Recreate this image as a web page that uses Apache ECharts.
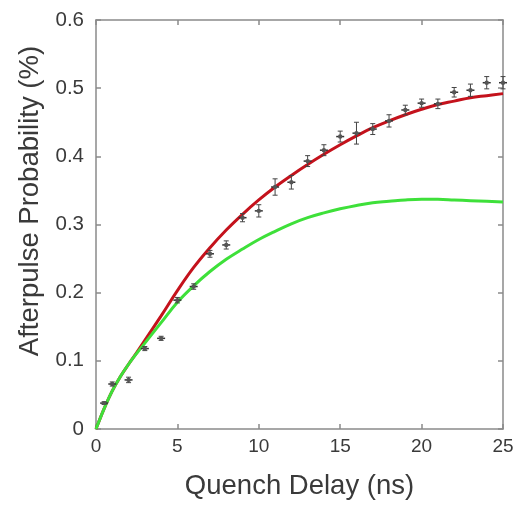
<!DOCTYPE html>
<html>
<head>
<meta charset="utf-8">
<script src="https://cdn.jsdelivr.net/npm/echarts@6/dist/echarts.min.js"></script>
<style>
html,body{margin:0;padding:0;background:#fff;}
#chart{width:518px;height:506px;}
</style>
</head>
<body>
<div id="chart"></div>
<script>
// Measured data points (quench delay in ns, afterpulse probability in %)
var delays = [0.5, 1, 2, 3, 4, 5, 6, 7, 8, 9, 10, 11, 12, 13, 14, 15, 16, 17, 18, 19, 20, 21, 22, 23, 24, 25];
var probs  = [0.038, 0.066, 0.072, 0.118, 0.133, 0.189, 0.209, 0.257, 0.270, 0.310, 0.320, 0.355, 0.362, 0.393, 0.409, 0.429, 0.434, 0.440, 0.452, 0.468, 0.478, 0.477, 0.494, 0.497, 0.508, 0.508];
var errs   = [0.002, 0.003, 0.004, 0.003, 0.003, 0.004, 0.004, 0.005, 0.006, 0.006, 0.009, 0.012, 0.010, 0.008, 0.008, 0.008, 0.016, 0.008, 0.009, 0.007, 0.006, 0.007, 0.007, 0.009, 0.009, 0.009];

// Model curves
var curveT     = [0, 0.5, 1, 1.5, 2, 2.5, 3, 4, 5, 6, 7, 8, 9, 10, 11, 12, 13, 14, 15, 16, 17, 18, 19, 20, 21, 22, 23, 24, 25];
var redCurve   = [0, 0.030, 0.056, 0.077, 0.095, 0.112, 0.130, 0.166, 0.203, 0.237, 0.266, 0.292, 0.315, 0.336, 0.355, 0.372, 0.388, 0.403, 0.417, 0.430, 0.442, 0.452, 0.461, 0.469, 0.476, 0.481, 0.486, 0.489, 0.492];
var greenCurve = [0, 0.030, 0.056, 0.077, 0.095, 0.111, 0.126, 0.156, 0.186, 0.210, 0.231, 0.249, 0.264, 0.278, 0.290, 0.301, 0.310, 0.317, 0.323, 0.328, 0.332, 0.334, 0.336, 0.337, 0.337, 0.336, 0.335, 0.334, 0.333];

// Axis ticks
var xTicks = {min: 0, max: 25, interval: 5};
var yTicks = {min: 0, max: 0.6, interval: 0.1};

var chart = echarts.init(document.getElementById('chart'), null, {renderer: 'canvas'});

function pairs(xs, ys) { return xs.map(function (x, i) { return [x, ys[i]]; }); }

var pointData = delays.map(function (x, i) { return [x, probs[i], errs[i]]; });

var font = '"Liberation Sans", Arial, sans-serif';
var axisColor = '#8a8a8a';
var textColor = '#3a3a3a';

function axisBase(extra) {
  var a = {
    type: 'value',
    axisLine: {show: true, onZero: false, lineStyle: {color: axisColor, width: 1.5}},
    axisTick: {show: true, inside: true, length: 5, lineStyle: {color: axisColor, width: 1.5}},
    splitLine: {show: false}
  };
  for (var k in extra) a[k] = extra[k];
  return a;
}

var option = {
  backgroundColor: '#ffffff',
  animation: false,
  grid: {left: 96, right: 15, top: 20, bottom: 77, containLabel: false},
  xAxis: [
    axisBase({
      position: 'bottom', min: xTicks.min, max: xTicks.max, interval: xTicks.interval,
      name: 'Quench Delay (ns)', nameLocation: 'middle', nameGap: 43,
      nameTextStyle: {fontFamily: font, fontSize: 27.5, color: textColor},
      axisLabel: {fontFamily: font, fontSize: 19, color: textColor, margin: 8}
    }),
    axisBase({
      position: 'top', min: xTicks.min, max: xTicks.max, interval: xTicks.interval,
      axisLabel: {show: false}
    })
  ],
  yAxis: [
    axisBase({
      position: 'left', min: yTicks.min, max: yTicks.max, interval: yTicks.interval,
      axisLabel: {fontFamily: font, fontSize: 20.5, color: textColor, margin: 12,
        formatter: function (v) { return v === 0 ? '0' : v.toFixed(1); }}
    }),
    axisBase({
      position: 'right', min: yTicks.min, max: yTicks.max, interval: yTicks.interval,
      axisLabel: {show: false}
    })
  ],
  graphic: [{
    type: 'text',
    x: 30, y: 201,
    rotation: Math.PI / 2,
    style: {
      text: 'Afterpulse Probability (%)',
      fontFamily: font, fontSize: 27.5, fill: textColor,
      align: 'center', verticalAlign: 'middle'
    }
  }],
  series: [{
    name: 'red', type: 'line', smooth: 0.4, showSymbol: false,
    data: pairs(curveT, redCurve),
    lineStyle: {color: '#c4121c', width: 3},
    z: 3
  }, {
    name: 'green', type: 'line', smooth: 0.4, showSymbol: false,
    xAxisIndex: 1, yAxisIndex: 1,
    data: pairs(curveT, greenCurve),
    lineStyle: {color: '#3ee03a', width: 3},
    z: 4
  }, {
    name: 'data', type: 'custom',
    data: pointData,
    clip: false,
    z: 5,
    renderItem: function (params, api) {
      var x = api.value(0), y = api.value(1), e = api.value(2);
      var c = api.coord([x, y]);
      var top = api.coord([x, y + e]);
      var bot = api.coord([x, y - e]);
      var style = {stroke: '#444', lineWidth: 1};
      var cap = 2.5;
      return {
        type: 'group',
        children: [
          {type: 'line', shape: {x1: c[0], y1: top[1], x2: c[0], y2: bot[1]}, style: style},
          {type: 'line', shape: {x1: c[0] - cap, y1: top[1], x2: c[0] + cap, y2: top[1]}, style: style},
          {type: 'line', shape: {x1: c[0] - cap, y1: bot[1], x2: c[0] + cap, y2: bot[1]}, style: style},
          {type: 'line', shape: {x1: c[0] - 4, y1: c[1], x2: c[0] + 4, y2: c[1]}, style: {stroke: '#333', lineWidth: 1.5}},
          {type: 'circle', shape: {cx: c[0], cy: c[1], r: 2.2}, style: {fill: '#555', stroke: null}}
        ]
      };
    }
  }]
};
chart.setOption(option);
</script>
</body>
</html>
